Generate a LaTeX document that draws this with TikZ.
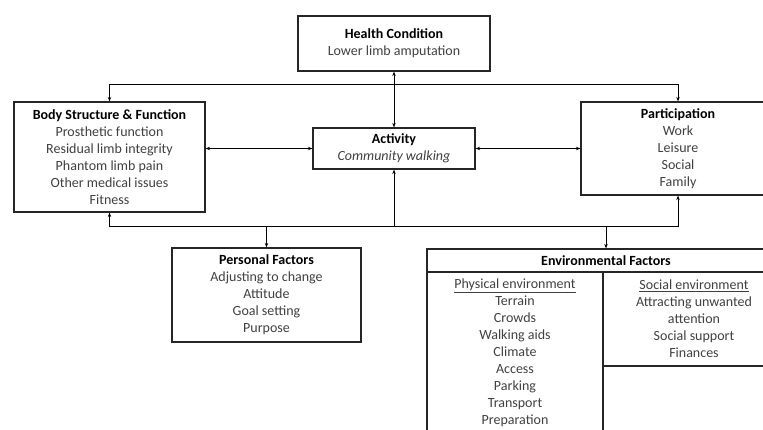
\documentclass[tikz,border=0pt]{standalone}
\usepackage{fontspec}
\setmainfont{Carlito}
\usetikzlibrary{arrows.meta}

\newcommand{\boxtitle}[1]{\textbf{\color{black}#1}}

\begin{document}
\begin{tikzpicture}[x=1pt, y=-1pt, line width=0.8pt,
    box/.style={draw=black!85, line width=1.2pt, inner sep=0pt, align=center,
      text=black!75, font=\fontsize{14}{17}\selectfont},
    link/.style={{Stealth[length=4.5pt,width=3.5pt]}-{Stealth[length=4.5pt,width=3.5pt]}},
    tip/.style={-{Stealth[length=4.5pt,width=3.5pt]}}]
    \useasboundingbox (0,0) rectangle (763,430);
    \clip (0,0) rectangle (763,430);

    % Components
    \node[box, minimum width=192pt, minimum height=55pt] (health) at (394,43.5)
        {\boxtitle{Health Condition}\\Lower limb amputation};
    \node[box, minimum width=191pt, minimum height=110pt] (body) at (109.5,157)
        {\boxtitle{Body Structure \& Function}\\Prosthetic function\\Residual limb integrity\\Phantom limb pain\\Other medical issues\\Fitness};
    \node[box, minimum width=162pt, minimum height=41pt] (activity) at (394,148.5)
        {\boxtitle{Activity}\\\textit{Community walking}};
    \node[box, minimum width=194pt, minimum height=93pt] (particip) at (678,148.5)
        {\boxtitle{Participation}\\Work\\Leisure\\Social\\Family};

    % Contextual factors
    \node[box, minimum width=189pt, minimum height=94pt] (personal) at (266.5,295)
        {\boxtitle{Personal Factors}\\Adjusting to change\\Attitude\\Goal setting\\Purpose};
    \node[box, minimum width=358pt, minimum height=23pt] (env) at (606,260.5)
        {\boxtitle{Environmental Factors}};
    \node[box, minimum width=176pt, minimum height=162pt] (physical) at (515,353)
        {\underline{Physical environment}\\Terrain\\Crowds\\Walking aids\\Climate\\Access\\Parking\\Transport\\Preparation};
    \node[box, minimum width=182pt, minimum height=94pt] (social) at (694,319)
        {\underline{Social environment}\\Attracting unwanted\\attention\\Social support\\Finances};

    % Interactions
    \coordinate (hub) at (394,84);
    \coordinate (base) at (394,226);
    \draw[link] (health) -- (activity);
    \draw[link] (body.east |- activity) -- (activity);
    \draw[link] (activity) -- (particip);
    \draw[tip] (hub) -| (body);
    \draw[tip] (hub) -| (particip);
    \draw[tip] (base) -- (activity);
    \draw[tip] (base) -| (body);
    \draw[tip] (base) -| (particip);
    \draw[tip] (base) -| (personal);
    \draw[tip] (base) -| (env);
\end{tikzpicture}
\end{document}
